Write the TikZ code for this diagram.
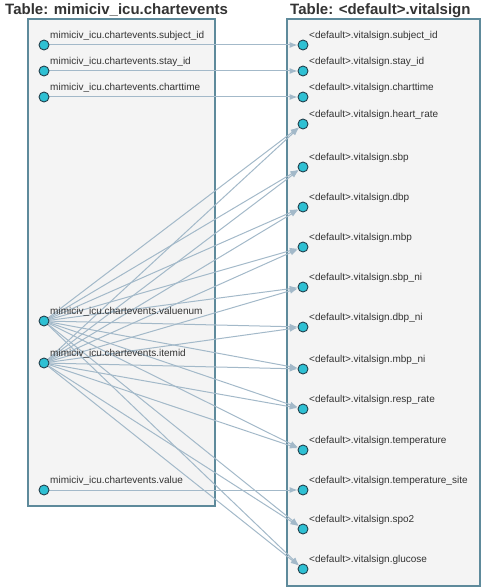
\documentclass[tikz,border=0pt]{standalone}
\usepackage{fontspec}
\setmainfont{Liberation Sans}
\usetikzlibrary{arrows.meta}
\definecolor{boxfill}{HTML}{F4F4F4}
\definecolor{boxline}{HTML}{5E8A9B}
\definecolor{portfill}{HTML}{2EC0D3}
\definecolor{portline}{HTML}{23404C}
\definecolor{connline}{HTML}{A3B9C9}
\definecolor{txt}{HTML}{333333}
\pgfdeclarelayer{boxes}
\pgfdeclarelayer{lines}
\pgfsetlayers{boxes,lines,main}
\tikzset{
  tablebox/.style={draw=boxline, fill=boxfill, line width=1.2pt},
  port/.style={circle, draw=portline, fill=portfill, line width=0.9pt, minimum size=10pt, inner sep=0pt},
  fieldlabel/.style={anchor=base west, inner sep=0pt, text=txt, font=\fontsize{10}{12}\selectfont},
  tabletitle/.style={anchor=base west, inner sep=0pt, text=txt, font=\fontsize{15}{18}\selectfont\bfseries},
  conn/.style={draw=connline, line width=1pt, -{Latex[length=8pt,width=6pt]}},
}
\begin{document}
\begin{tikzpicture}[x=1pt,y=-1pt]
\useasboundingbox (0,0) rectangle (482,588);
% titles
\node[tabletitle] (t1) at (5,15) {Table: mimiciv\_icu.chartevents};
\node[tabletitle] (t2) at (290,15) {Table: <default>.vitalsign};
% boxes
\begin{pgfonlayer}{boxes}
\draw[tablebox] (28,19) rectangle (215,506);
\draw[tablebox] (287,19) rectangle (480,586);
\end{pgfonlayer}
% left ports
\foreach \n/\y/\t in {L1/45/subject\_id, L2/71/stay\_id, L3/97/charttime, L4/321/valuenum, L5/363/itemid, L6/490/value}{
  \node[port] (\n) at (44,\y) {};
  \node[fieldlabel] (\n lab) at (50,\y-6.5) {mimiciv\_icu.chartevents.\t};
}
% right ports
\foreach \n/\y/\t in {R1/45/subject\_id, R2/71/stay\_id, R3/97/charttime, R4/124/heart\_rate, R5/167/sbp, R6/207/dbp, R7/247/mbp, R8/287/sbp\_ni, R9/327/dbp\_ni, R10/369/mbp\_ni, R11/409/resp\_rate, R12/450/temperature, R13/490/temperature\_site, R14/529/spo2, R15/569/glucose}{
  \node[port] (\n) at (303,\y) {};
  \node[fieldlabel] (\n lab) at (309,\y-6.5) {<default>.vitalsign.\t};
}
% connectors
\begin{pgfonlayer}{lines}
\draw[conn] (L1) -- (R1);
\draw[conn] (L2) -- (R2);
\draw[conn] (L3) -- (R3);
\draw[conn] (L6) -- (R13);
\foreach \r in {R4,R5,R6,R7,R8,R9,R10,R11,R12,R14,R15}{
  \draw[conn] (L4) -- (\r);
  \draw[conn] (L5) -- (\r);
}
\end{pgfonlayer}
\end{tikzpicture}
\end{document}
